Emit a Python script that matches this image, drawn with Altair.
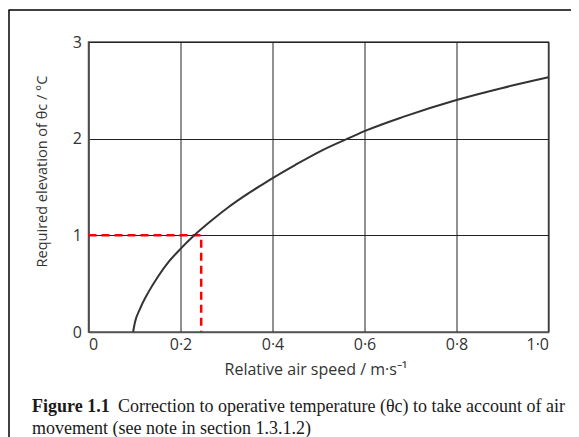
import altair as alt
import pandas as pd

# Curve
speed = [0.097, 0.101, 0.112, 0.130, 0.152, 0.175, 0.200, 0.230, 0.268, 0.304,
         0.340, 0.376, 0.403, 0.450, 0.510, 0.568, 0.604, 0.684, 0.800, 0.900, 1.000]
elevation = [0.00, 0.10, 0.24, 0.41, 0.58, 0.73, 0.86, 1.00, 1.155, 1.29,
             1.41, 1.52, 1.60, 1.73, 1.885, 2.01, 2.085, 2.225, 2.40, 2.525, 2.635]

# Red dashed guide
guide_speed = [0.0, 0.245, 0.245]
guide_elev = [1.0, 1.0, 0.0]
guide_order = [0, 1, 2]

x_ticks = [0, 0.2, 0.4, 0.6, 0.8, 1.0]
y_ticks = [0, 1, 2, 3]

x_title = "Relative air speed / m·s⁻¹"
y_title = "Required elevation of θc / °C"
cap_bold = "Figure 1.1"
cap_line1 = "Correction to operative temperature (θc) to take account of air"
cap_line2 = "movement (see note in section 1.3.1.2)"

curve_df = pd.DataFrame({"speed": speed, "elev": elevation})
guide_df = pd.DataFrame({"speed": guide_speed, "elev": guide_elev, "o": guide_order})

xscale = alt.Scale(domain=[0, 1], nice=False, zero=False)
yscale = alt.Scale(domain=[0, 3], nice=False)

xaxis = alt.Axis(
    values=x_ticks, title=x_title,
    labelExpr="datum.value == 0 ? '0' : replace(format(datum.value, '.1f'), '.', '·')",
    titleX=227, titleY=37, titleBaseline="middle", titleAlign="center",
)
yaxis = alt.Axis(
    values=y_ticks, title=y_title, format="d",
    titleX=-46, titleY=129, titleAlign="center", titleBaseline="middle", titleAngle=270,
    titleFontSize=14.5,
)

curve = alt.Chart(curve_df).mark_line(
    color="#333333", strokeWidth=2, interpolate="monotone"
).encode(
    x=alt.X("speed:Q", scale=xscale, axis=xaxis),
    y=alt.Y("elev:Q", scale=yscale, axis=yaxis),
)

guide = alt.Chart(guide_df).mark_line(
    color="#ff0000", strokeWidth=2.5, strokeDash=[8, 5]
).encode(
    x=alt.X("speed:Q", scale=xscale),
    y=alt.Y("elev:Q", scale=yscale),
    order="o:Q",
)

frame_top = alt.Chart(pd.DataFrame({"a": [0]})).mark_rule(
    color="#000000", strokeWidth=1.5
).encode(x=alt.value(-80), x2=alt.value(492), y=alt.value(-32))

frame_left = alt.Chart(pd.DataFrame({"a": [0]})).mark_rule(
    color="#000000", strokeWidth=1.5
).encode(x=alt.value(-79.5), y=alt.value(-32), y2=alt.value(420))

def cap(text, x, y, weight):
    return alt.Chart(pd.DataFrame({"t": [text]})).mark_text(
        font="Liberation Serif", fontSize=18, fontWeight=weight, color="#1a1a1a",
        align="left", baseline="middle",
    ).encode(text="t:N", x=alt.value(x), y=alt.value(y))

chart = alt.layer(
    guide, curve, frame_top, frame_left,
    cap(cap_bold, -56.5, 365, "bold"),
    cap(cap_line1, 29.5, 365, "normal"),
    cap(cap_line2, -56.5, 387, "normal"),
).properties(
    width=460, height=290,
    autosize=alt.AutoSizeParams(type="none"),
    padding={"left": 80.5, "top": 34, "right": 22.5, "bottom": 105},
).configure_view(
    stroke="#555555", strokeWidth=1.5,
).configure_axis(
    labelFont="Open Sans", labelFontSize=16, labelColor="#333333",
    titleFont="Open Sans", titleFontSize=15, titleFontWeight="normal", titleColor="#333333",
    ticks=False, tickSize=0, labelPadding=4,
    domainColor="#555555", domainWidth=1.5,
    grid=True, gridColor="#222222", gridWidth=1, gridOpacity=1,
).configure_axisX(titleFontSize=16).configure_axisY(labelPadding=7)

chart.save("out.html", embed_options={"renderer": "svg", "actions": False})
